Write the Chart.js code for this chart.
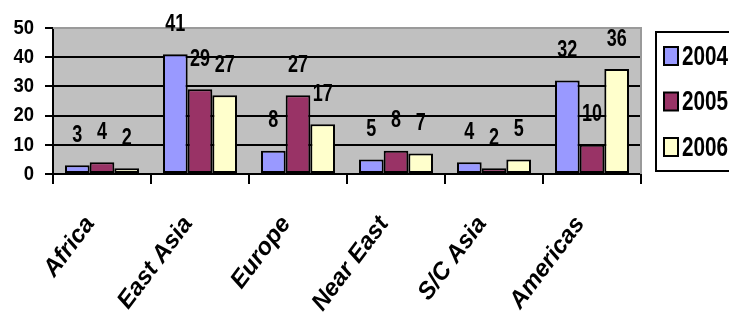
<!DOCTYPE html>
<html>
<head>
<meta charset="utf-8">
<script src="https://cdn.jsdelivr.net/npm/chart.js@4.4.0/dist/chart.umd.min.js"></script>
<style>
  html, body { margin: 0; padding: 0; background: #fff; overflow: hidden; }
  canvas { display: block; }
</style>
</head>
<body>
<canvas id="regions" width="729" height="323"></canvas>
<script>
var categories = ["Africa", "East Asia", "Europe", "Near East", "S/C Asia", "Americas"];
var years = ["2004", "2005", "2006"];
var values2004 = [3, 41, 8, 5, 4, 32];
var values2005 = [4, 29, 27, 8, 2, 10];
var values2006 = [2, 27, 17, 7, 5, 36];
var yTicks = [0, 10, 20, 30, 40, 50];

var sans = "'Liberation Sans', Arial, sans-serif";

/* draw text squeezed horizontally, the source uses a narrow face */
function narrowText(ctx, text, x, y, size, squeeze, align) {
    ctx.save();
    ctx.translate(x, y);
    ctx.scale(squeeze, 1);
    ctx.font = 'bold ' + size + 'px ' + sans;
    ctx.textAlign = align;
    ctx.textBaseline = 'middle';
    ctx.fillText(text, 0, 0);
    ctx.restore();
}

/* grey plot background and outline */
var plotBg = {
    id: 'plotBg',
    beforeDraw: function(chart) {
        var a = chart.chartArea, ctx = chart.ctx;
        ctx.save();
        ctx.fillStyle = '#c0c0c0';
        ctx.fillRect(a.left, a.top, a.right - a.left, a.bottom - a.top);
        ctx.restore();
    },
    afterDatasetsDraw: function(chart) {
        var a = chart.chartArea, ctx = chart.ctx;
        ctx.save();
        ctx.strokeStyle = '#9a9a9a';
        ctx.lineWidth = 2;
        ctx.beginPath();
        ctx.moveTo(a.left, a.top);
        ctx.lineTo(a.right, a.top);
        ctx.lineTo(a.right, a.bottom);
        ctx.stroke();
        ctx.restore();
    }
};

/* y tick labels in the narrow style, placed by the y scale */
var yLabels = {
    id: 'yLabels',
    afterDraw: function(chart) {
        var scale = chart.scales.y, ctx = chart.ctx;
        ctx.fillStyle = '#000';
        scale.ticks.forEach(function(t) {
            narrowText(ctx, String(t.value), 34, scale.getPixelForValue(t.value), 21, 0.88, 'right');
        });
    }
};

/* value labels above each bar */
var valueLabels = {
    id: 'valueLabels',
    afterDatasetsDraw: function(chart) {
        var ctx = chart.ctx;
        ctx.fillStyle = '#000';
        chart.data.datasets.forEach(function(ds, i) {
            var meta = chart.getDatasetMeta(i);
            meta.data.forEach(function(bar, j) {
                narrowText(ctx, String(ds.data[j]), bar.x, bar.y - 30, 24, 0.75, 'center');
            });
        });
    }
};

/* boxed legend on the right, clipped by the canvas edge */
var boxLegend = {
    id: 'boxLegend',
    afterDraw: function(chart) {
        var ctx = chart.ctx;
        ctx.save();
        ctx.fillStyle = '#fff';
        ctx.fillRect(656, 32, 100, 139);
        ctx.strokeStyle = '#000';
        ctx.lineWidth = 2;
        ctx.strokeRect(656, 32, 100, 139);
        chart.data.datasets.forEach(function(ds, i) {
            var cy = 56 + i * 45.5;
            ctx.fillStyle = ds.backgroundColor;
            ctx.fillRect(664, cy - 9, 14, 18);
            ctx.lineWidth = 2;
            ctx.strokeRect(664, cy - 9, 14, 18);
            ctx.fillStyle = '#000';
            narrowText(ctx, ds.label, 682, cy + 1, 28, 0.74, 'left');
        });
        ctx.restore();
    }
};

var data = {
    labels: categories,
    datasets: [
        { label: years[0], data: values2004, backgroundColor: '#9999ff' },
        { label: years[1], data: values2005, backgroundColor: '#993366' },
        { label: years[2], data: values2006, backgroundColor: '#ffffcc' }
    ]
};
data.datasets.forEach(function(ds) {
    ds.borderColor = '#000';
    ds.borderWidth = 2;
    ds.borderSkipped = false;
    ds.categoryPercentage = 0.755;
    ds.barPercentage = 1.0;
});

var options = {
    responsive: false,
    animation: false,
    devicePixelRatio: 1,
    layout: { padding: { top: 28, right: 88, left: 0, bottom: 0 } },
    plugins: {
        legend: { display: false },
        tooltip: { enabled: false }
    },
    scales: {
        y: {
            min: yTicks[0],
            max: yTicks[yTicks.length - 1],
            afterBuildTicks: function(scale) {
                scale.ticks = yTicks.map(function(v) { return { value: v }; });
            },
            afterFit: function(scale) { scale.width = 53; },
            ticks: { display: false },
            grid: {
                color: function(c) { return c.tick && c.tick.value === 50 ? '#9a9a9a' : '#000'; },
                lineWidth: 2,
                tickColor: '#000',
                tickLength: 8,
                tickWidth: 2
            },
            border: { color: '#000', width: 2 }
        },
        x: {
            afterFit: function(scale) { scale.height = 149; },
            ticks: {
                color: '#000',
                minRotation: 53,
                maxRotation: 53,
                padding: 27,
                labelOffset: -12,
                font: { family: sans, size: 24, weight: 'bold', style: 'italic' }
            },
            grid: {
                offset: true,
                drawOnChartArea: false,
                color: '#000',
                tickLength: 10,
                lineWidth: 2
            },
            border: { color: '#000', width: 2 }
        }
    }
};

var ctx = document.getElementById('regions').getContext('2d');
var regionChart = new Chart(ctx, {
    type: 'bar',
    data: data,
    options: options,
    plugins: [plotBg, valueLabels, yLabels, boxLegend]
});
</script>
</body>
</html>
